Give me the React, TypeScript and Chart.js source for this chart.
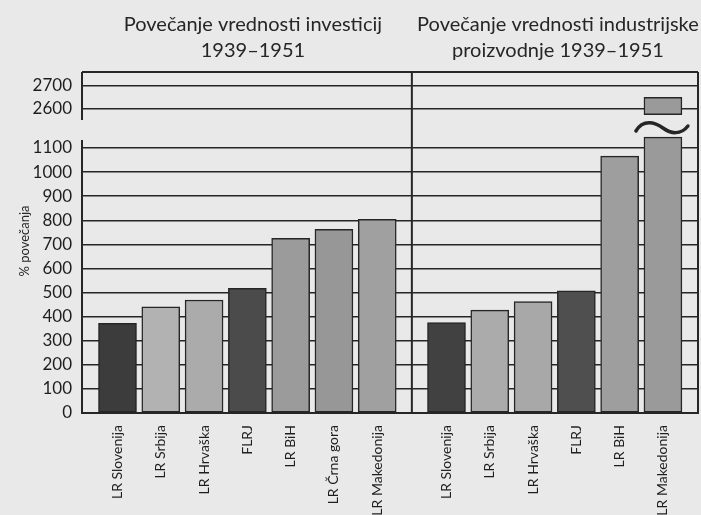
import React, { useEffect, useRef } from 'react';
import { Chart, registerables } from 'chart.js';

Chart.register(...registerables);

// ---------- data ----------
const LEFT_TITLE = ['Povečanje vrednosti investicij', '1939–1951'];
const RIGHT_TITLE = ['Povečanje vrednosti industrijske', 'proizvodnje 1939–1951'];
const Y_TITLE = '% povečanja';

const LEFT_CATEGORIES = ['LR Slovenija', 'LR Srbija', 'LR Hrvaška', 'FLRJ', 'LR BiH', 'LR Črna gora', 'LR Makedonija'];
const LEFT_VALUES = [372, 441, 469, 517, 725, 762, 804];
const LEFT_COLORS = ['#3c3c3c', '#b2b2b2', '#ababab', '#4b4b4b', '#9b9b9b', '#979797', '#a0a0a0'];

const RIGHT_CATEGORIES = ['LR Slovenija', 'LR Srbija', 'LR Hrvaška', 'FLRJ', 'LR BiH', 'LR Makedonija'];
const RIGHT_VALUES = [375, 427, 462, 507, 1066, 2650];
const RIGHT_COLORS = ['#414141', '#ababab', '#a8a8a8', '#4f4f4f', '#9e9e9e', '#9a9a9a'];

const LOWER_TICKS = [0, 100, 200, 300, 400, 500, 600, 700, 800, 900, 1000, 1100];
const UPPER_TICKS = [2600, 2700];

// axis break
const LOWER_MIN = 0;
const LOWER_MAX = 1183;
const UPPER_MIN = 2518;
const UPPER_MAX = 2759;
const BREAK_LOW = 1145;
const BREAK_HIGH = 2575;

// ---------- layout constants ----------
const RIGHT_OFFSET = 7.6;
const X_MIN = -0.82;
const X_MAX = 13.41;
const DIVIDER = 6.8;
const INK = '#262626';
const PAPER = '#e9e9e9';
const FONT = 'Lato, "Open Sans", sans-serif';

const X_POSITIONS = [
  ...LEFT_CATEGORIES.map((_, i) => i),
  ...RIGHT_CATEGORIES.map((_, j) => RIGHT_OFFSET + j),
];
const X_LABELS = [...LEFT_CATEGORIES, ...RIGHT_CATEGORIES];

const framePlugin = {
  id: 'frame',
  beforeDraw(chart: any) {
    const { ctx, width, height } = chart;
    ctx.save();
    ctx.fillStyle = PAPER;
    ctx.fillRect(0, 0, width, height);
    ctx.restore();
  },
  afterDatasetsDraw(chart: any) {
    const { ctx, chartArea } = chart;
    const { left, right, top, bottom } = chartArea;
    const x = chart.scales.x;
    const y = chart.scales.y;
    const yTop = chart.scales.yTop;
    ctx.save();
    ctx.strokeStyle = INK;
    ctx.lineWidth = 2;
    const line = (x1: number, y1: number, x2: number, y2: number) => {
      ctx.beginPath();
      ctx.moveTo(x1, y1);
      ctx.lineTo(x2, y2);
      ctx.stroke();
    };
    line(left, top, right, top);
    line(right, top, right, bottom);
    const dx = x.getPixelForValue(DIVIDER);
    line(dx, top, dx, bottom);
    line(left, bottom, left, y.top + 12);
    line(left, yTop.bottom - 8, left, top);

    // break marks on broken bars
    const meta = chart.getDatasetMeta(1);
    RIGHT_VALUES.forEach((v, j) => {
      if (v <= BREAK_LOW) return;
      const el = meta.data[j];
      const cx = el.x;
      const cy = yTop.bottom;
      ctx.beginPath();
      ctx.lineWidth = 3.5;
      ctx.lineCap = 'round';
      ctx.moveTo(cx - 27, cy + 3);
      ctx.bezierCurveTo(cx - 20, cy - 9, cx - 8, cy - 6, cx, cy);
      ctx.bezierCurveTo(cx + 8, cy + 6, cx + 18, cy + 7, cx + 25, cy - 2);
      ctx.stroke();
    });

    // titles
    ctx.fillStyle = INK;
    ctx.font = `20px ${FONT}`;
    ctx.textAlign = 'center';
    ctx.textBaseline = 'alphabetic';
    const lc = (left + dx) / 2 + 6;
    const rc = (dx + right) / 2 + 3;
    ctx.fillText(LEFT_TITLE[0], lc, 31);
    ctx.fillText(LEFT_TITLE[1], lc, 57);
    ctx.fillText(RIGHT_TITLE[0], rc, 31);
    ctx.fillText(RIGHT_TITLE[1], rc, 57);

    // y axis title
    ctx.save();
    ctx.translate(25, 241);
    ctx.rotate(-Math.PI / 2);
    ctx.font = `13px ${FONT}`;
    ctx.textBaseline = 'middle';
    ctx.fillText(Y_TITLE, 0, 0);
    ctx.restore();
    ctx.restore();
  },
};

const barCommon = {
  borderColor: INK,
  borderWidth: 1.5,
  borderSkipped: false,
  grouped: false,
  barThickness: 38,
  maxBarThickness: 38,
};

const makeYTicks = () => ({
  padding: 10,
  color: '#1e1e1e',
  font: { size: 17, family: FONT },
  autoSkip: false,
  callback: (v: any) => String(v),
});

export default function App() {
  const ref = useRef<HTMLCanvasElement>(null);
  useEffect(() => {
    Chart.defaults.font.family = FONT;
    const chart = new Chart(ref.current as HTMLCanvasElement, {
      type: 'bar',
      data: {
        datasets: [
          {
            ...barCommon,
            data: LEFT_VALUES.map((v, i) => ({ x: i, y: v })),
            backgroundColor: LEFT_COLORS,
            yAxisID: 'y',
          },
          {
            ...barCommon,
            data: RIGHT_VALUES.map((v, j) => ({ x: RIGHT_OFFSET + j, y: Math.min(v, BREAK_LOW) })),
            backgroundColor: RIGHT_COLORS,
            yAxisID: 'y',
          },
          {
            ...barCommon,
            data: RIGHT_VALUES.map((v, j) => ({ x: RIGHT_OFFSET + j, y: v > BREAK_LOW ? [BREAK_HIGH, v] : null })),
            backgroundColor: RIGHT_COLORS,
            yAxisID: 'yTop',
          },
        ] as any,
      },
      options: {
        responsive: false,
        animation: false,
        devicePixelRatio: 1,
        layout: { padding: { top: 72, right: 3, left: 0, bottom: 0 } },
        plugins: { legend: { display: false }, tooltip: { enabled: false } },
        scales: {
          x: {
            type: 'linear',
            offset: false,
            min: X_MIN,
            max: X_MAX,
            afterBuildTicks: (s: any) => {
              s.ticks = X_POSITIONS.map((v) => ({ value: v }));
            },
            afterFit: (s: any) => {
              s.height = 102;
              s.paddingLeft = 0;
              s.paddingRight = 0;
            },
            grid: { display: false, drawTicks: false, offset: false },
            border: { display: true, color: INK, width: 2 },
            ticks: {
              autoSkip: false,
              minRotation: 90,
              maxRotation: 90,
              padding: 12,
              color: '#1e1e1e',
              font: { size: 14, family: FONT },
              callback: (_v: any, i: number) => X_LABELS[i],
            },
          },
          y: {
            type: 'linear',
            position: 'left',
            stack: 'yaxis',
            stackWeight: 285,
            min: LOWER_MIN,
            max: LOWER_MAX,
            afterBuildTicks: (s: any) => {
              s.ticks = LOWER_TICKS.map((v) => ({ value: v }));
            },
            afterFit: (s: any) => {
              s.width = 82;
              s.paddingTop = 0;
              s.paddingBottom = 0;
            },
            grid: { color: INK, lineWidth: 1.5, drawTicks: false },
            border: { display: false },
            ticks: makeYTicks(),
          },
          yTop: {
            type: 'linear',
            position: 'left',
            stack: 'yaxis',
            stackWeight: 56,
            min: UPPER_MIN,
            max: UPPER_MAX,
            afterBuildTicks: (s: any) => {
              s.ticks = UPPER_TICKS.map((v) => ({ value: v }));
            },
            afterFit: (s: any) => {
              s.width = 82;
              s.paddingTop = 0;
              s.paddingBottom = 0;
            },
            grid: { color: INK, lineWidth: 1.5, drawTicks: false },
            border: { display: false },
            ticks: makeYTicks(),
          },
        },
      } as any,
      plugins: [framePlugin],
    });
    return () => chart.destroy();
  }, []);
  return (
    <div style={{ position: 'fixed', left: 0, top: 0, width: 701, height: 515, background: PAPER }}>
      <canvas ref={ref} width={701} height={515} style={{ display: 'block', width: 701, height: 515 }} />
    </div>
  );
}
